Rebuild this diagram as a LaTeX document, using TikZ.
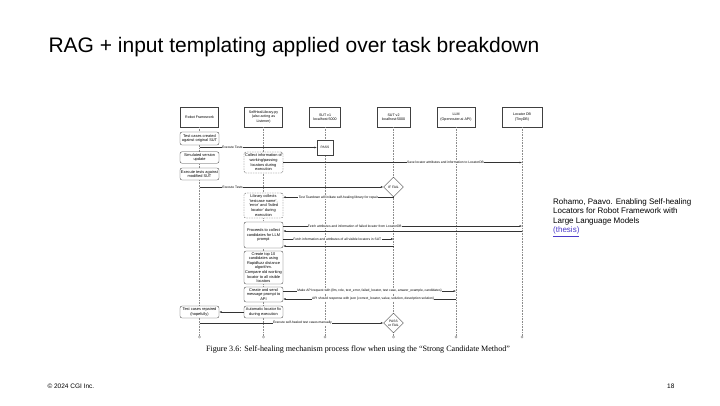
\documentclass[tikz,border=0pt]{standalone}
\usepackage{fontspec}
\setmainfont{Liberation Sans}
\newfontfamily\captionserif{Liberation Serif}
\usetikzlibrary{arrows.meta, calc, shapes.geometric}
\definecolor{thesislink}{RGB}{75,58,200}

\begin{document}
\begin{tikzpicture}[x=1pt, y=-1pt, font=\fontsize{3.9}{4.6}\selectfont]
        % Setup the styles for the boxes and messages
        \tikzset{head style/.style={draw=black!75, line width=0.35pt, fill=white,
                                    align=center, minimum width=38, minimum height=20,
                                    inner sep=0.5, font=\fontsize{3.6}{4.3}\selectfont},
                 act style/.style={draw=black!75, line width=0.35pt, fill=white,
                                   align=center, rounded corners=2,
                                   minimum width=39, inner sep=0.5},
                 note style/.style={act style, dash pattern=on 1.5pt off 1pt},
                 check style/.style={diamond, draw=black!75, line width=0.35pt, fill=white,
                                     aspect=1, minimum width=20, minimum height=20,
                                     inner sep=0, align=center,
                                     font=\fontsize{3.3}{3.8}\selectfont},
                 life style/.style={draw=black!45, line width=0.3pt,
                                    dash pattern=on 0.8pt off 0.8pt},
                 end mark/.style={circle, draw=black!45, line width=0.3pt, fill=white,
                                  minimum size=2.2, inner sep=0},
                 msg/.style={draw=black!80, line width=0.35pt,
                             -{Latex[length=2.4pt, width=1.8pt]}},
                 msg label/.style={fill=white, inner sep=0.4,
                                   font=\fontsize{3.3}{3.8}\selectfont}}
        \useasboundingbox (0,0) rectangle (720,405);

        % Slide texts
        \node[anchor=base west, font=\fontsize{21}{25}\selectfont] at (45,52) (title)
            {RAG + input templating applied over task breakdown};
        \node[anchor=north west, align=left, inner sep=0, font=\fontsize{8}{9.6}\selectfont]
            at (553,198) (source)
            {Rohamo, Paavo. Enabling Self-healing\\Locators for Robot Framework with\\Large Language Models\\\textcolor{thesislink}{\underline{(thesis)}}};
        \node[anchor=base west, font=\fontsize{6.5}{8}\selectfont] at (44,388) (copyright) {© 2024 CGI Inc.};
        \node[anchor=base east, font=\fontsize{6.5}{8}\selectfont] at (678,388) (page) {18};
        \node[anchor=base, font=\captionserif\fontsize{8.1}{9.5}\selectfont] at (358,351) (caption)
            {Figure 3.6: Self-healing mechanism process flow when using the “Strong Candidate Method”};

        % Draw the lifeline heads
        \node[head style] at (199.5,117) (rf)   {Robot Framework};
        \node[head style] at (263.5,117) (lib)  {SelfHealLibrary.py\\(also acting as\\Listener)};
        \node[head style, minimum width=31] at (325,117) (sut1) {SUT v1\\localhost:5000};
        \node[head style, minimum width=33] at (393.5,117) (sut2) {SUT v2\\localhost:5000};
        \node[head style] at (456,117) (llm)  {LLM\\(Openrouter.ai API)};
        \node[head style, minimum width=40] at (522,117) (db)   {Locator DB\\(TinyDB)};

        % Draw the lifelines
        \foreach \n in {rf, lib, sut1, sut2, llm, db} {
            \coordinate (\n end) at (\n |- 0,337);
            \draw[life style] (\n.south) -- (\n end);
            \node[end mark] at (\n end) (\n mark) {};
        }

        % Draw the steps
        \node[act style, minimum height=13] at (199.5,138.5) (created)  {Test cases created\\against original SUT};
        \node[act style, minimum height=11.5] at (199.5,157.5) (update) {Simulated version\\update};
        \node[act style, minimum height=12] at (199.5,174) (rerun)      {Execute tests against\\modified SUT};
        \node[act style, minimum height=12] at (199.5,312) (repaired)   {Test cases repaired\\(hopefully)};

        \node[note style, minimum height=21] at (263.5,162.5) (collect)
            {Collect information of\\working/passing\\locators during\\execution};
        \node[note style, minimum height=25] at (263.5,205.5) (libcollect)
            {Library collects\\'testcase name',\\'error' and 'failed\\locator' during\\execution};
        \node[act style, minimum height=26] at (263.5,235) (proceeds)
            {Proceeds to collect\\candidates for LLM\\prompt};
        \node[act style, minimum height=33] at (263.5,267.5) (topten)
            {Create top 10\\candidates using\\Rapidfuzz distance\\algorithm.\\Compare old working\\locator to all visible\\locators};
        \node[act style, minimum height=15] at (263.5,294.5) (prompt)
            {Create and send\\message prompt to\\API};
        \node[act style, minimum height=12] at (263.5,312) (autofix)
            {Automatic locator fix\\during execution};

        \node[draw=black!75, line width=0.35pt, fill=white, minimum width=16, minimum height=15,
              inner sep=0, font=\fontsize{3.3}{3.8}\selectfont] at (325,147.5) (pass) {PASS};
        \node[check style] at (393.5,187) (iffail) {IF FAIL};
        \node[check style] at (393.5,323) (passfail) {PASS\\or FAIL};

        % Points where the messages leave the boxes
        \coordinate (fetch db)  at ($(proceeds.east)+(0,-9)$);
        \coordinate (back db)   at ($(proceeds.east)+(0,-4)$);
        \coordinate (fetch sut) at ($(proceeds.east)+(0,4)$);
        \coordinate (back sut)  at ($(proceeds.east)+(0,11)$);
        \coordinate (api req)   at ($(prompt.east)+(0,-3.5)$);
        \coordinate (api resp)  at ($(prompt.east)+(0,4.5)$);

        % Connect the lifelines with messages
        \draw[msg] (rf |- pass.west) -- node[msg label, pos=0.28] {Execute Tests} (pass.west);
        \draw[msg] (collect.east) -- node[msg label, pos=0.68]
            {Save locator attributes and information to LocatorDB} (collect.east -| db);
        \draw[msg] (rf |- iffail.west) -- node[msg label, pos=0.18] {Execute Tests} (iffail.west);
        \draw[msg] (iffail.south) -- node[msg label, pos=0.5]
            {Test Teardown will initiate self-healing library for repair} (iffail.south -| libcollect.east);
        \draw[msg] (fetch db) -- node[msg label, pos=0.3]
            {Fetch attributes and information of failed locator from LocatorDB} (fetch db -| db);
        \draw[msg] (back db -| db) -- (back db);
        \draw[msg] (fetch sut) -- node[msg label, pos=0.49]
            {Fetch information and attributes of all visible locators in SUT} (fetch sut -| sut2);
        \draw[msg] (back sut -| sut2) -- (back sut);
        \draw[msg] (api req) -- node[msg label, pos=0.5]
            {Make API request with \{llm, role, text\_error, failed\_locator, test case, answer\_example, candidates\}} (api req -| llm);
        \draw[msg] (api resp -| llm) -- node[msg label, pos=0.48]
            {API should response with json \{correct\_locator, value, solution, description solution\}} (api resp);
        \draw[msg] (autofix.west) -- (repaired.east);
        \draw[msg] (rf |- passfail.west) -- node[msg label, pos=0.56]
            {Execute self-healed test cases manually} (passfail.west);
\end{tikzpicture}
\end{document}
